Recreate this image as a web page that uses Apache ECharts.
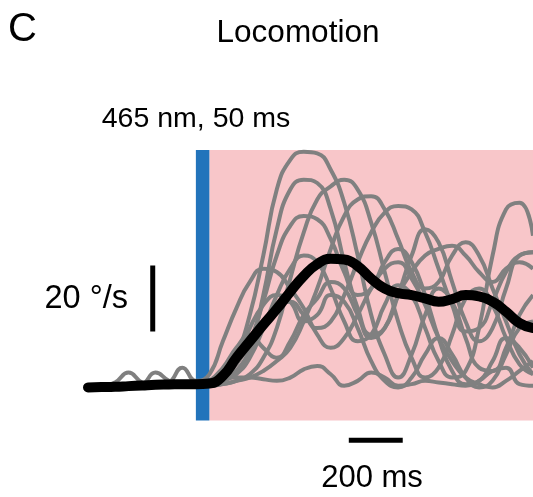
<!DOCTYPE html>
<html>
<head>
<meta charset="utf-8">
<script src="https://cdn.jsdelivr.net/npm/echarts@6/dist/echarts.min.js"></script>
<style>html,body{margin:0;padding:0;background:#fff;}#c{width:533px;height:497px;}</style>
</head>
<body>
<div id="c"></div>
<script>
// time in ms relative to light onset
var times = [-400,-350,-300,-250,-200,-150,-100,-50,0,50,100,150,200,250,300,350,400,450,500,550,600,650,700,750,800,850,900,950,1000,1050,1100,1150,1200,1250];
// individual trials (angular velocity, deg/s)
var trial1  = [0.5,0.5,0.5,0.5,0.5,0.5,0.5,0.5,0.5,1,4,10,22,40,60,69,71.5,71,66,56,40,22,10,3,10,22,30,26,15,6,5,12,22,28];
var trial2  = [0.5,0.5,0.5,0.5,0.5,0.5,0.5,0.5,0.5,1,2,5,12,28,48,60,63,62,54,38,24,16,18,28,40,48,44,32,20,14,18,30,40,41];
var trial3  = [0.5,0.5,0.5,0.5,0.5,0.5,0.5,0.5,0.5,0.5,1,2,4,9,18,33,47,57,61,63,60,50,35,20,9,3,6,16,27,30,25,15,7,4];
var trial4  = [0.5,0.5,0.5,0.5,0.5,0.5,0.5,0.5,0.5,0.5,1,2,3,5,8,12,20,30,42,52,57,58,54,45,35,30,32,40,44,40,30,20,10,4];
var trial5  = [0.5,0.5,0.5,0.5,0.5,0.5,0.5,0.5,0.5,1,2,5,10,18,25,26,22,18,20,28,38,47,53,55,54,47,36,25,17,18,26,35,40,41];
var trial6  = [0.5,0.5,0.5,0.5,0.5,0.5,0.5,0.5,0.5,1,2,4,9,18,28,36,40,38,30,20,14,16,25,31,28,18,8,3,5,18,40,54,56,46];
var trial7  = [0.5,0.5,0.5,0.5,0.5,0.5,0.5,0.5,0.5,1,3,7,14,26,40,49,52,51,45,35,28,30,38,42,38,28,15,5,1,2,8,15,12,6];
var trial8  = [0.5,0.5,0.5,0.5,0.5,0.5,0.5,0.5,0.5,2,6,12,16,12,9,14,22,27,32,30,22,15,18,28,35,40,42,43,40,35,32,36,38,36];
var trial9  = [0.5,0.5,1.5,4.5,1.5,0.5,0.5,0.5,0.5,2,3,3,3,2.5,2,3,5.5,6.5,4,0.5,2,4.5,3,0.5,1,2,1.5,1,0.5,2,5,6,1,0.5];
var trial10 = [0.5,0.5,0.5,0.5,1,4.5,2,0.5,0.5,1,3,8,18,25,28,26,20,22,28,26,18,8,2,0,3,10,15,10,3,0,2,10,18,20];
var trial11 = [0.5,0.5,0.5,0.5,0.5,0.5,1.5,6,2,4,14,24,32,36,35,30,24,16,12,15,22,30,36,38,33,25,15,8,3,1,0,2,5,8];
var trials = [trial1,trial2,trial3,trial4,trial5,trial6,trial7,trial8,trial9,trial10,trial11];
// mean response
var meanTrace = [0,0.1,0.2,0.4,0.6,0.8,0.9,1,1,1.2,3.5,9,14,19,23.8,29,33.8,37.4,39,38.8,36.8,33,30,28.6,28,27,26,26.8,28,27.6,26,23,19.5,18];
// stimulus windows (ms)
var lightOn = [0, 50];
var shadedWindow = [50, 1250];
var shadeRange = [-10, 72];
// scale bars
var scaleBarY = {t: -160, from: 17, size: 20, label: '20 °/s'};
var scaleBarX = {v: -16, from: 567, size: 200, label: '200 ms'};

function pairs(vals){ return times.map(function(t,i){ return [t, vals[i]]; }); }

var series = [];
series.push({
  type:'line', data:[], z:1, silent:true,
  markArea:{silent:true, itemStyle:{opacity:1}, data:[
    [{xAxis:shadedWindow[0], yAxis:shadeRange[0], itemStyle:{color:'#f8c6c9'}},{xAxis:shadedWindow[1], yAxis:shadeRange[1]}],
    [{xAxis:lightOn[0], yAxis:shadeRange[0], itemStyle:{color:'#2274bb'}},{xAxis:lightOn[1], yAxis:shadeRange[1]}]
  ]}
});
trials.forEach(function(tr){
  series.push({type:'line', data:pairs(tr), smooth:true, symbol:'none', z:2, silent:true,
    lineStyle:{color:'#808080', width:4}});
});
series.push({type:'line', data:pairs(meanTrace), smooth:true, symbol:'none', z:3, silent:true,
  lineStyle:{color:'#000', width:10, cap:'round', join:'round'}});
series.push({type:'line', data:[[scaleBarY.t, scaleBarY.from],[scaleBarY.t, scaleBarY.from+scaleBarY.size]], symbol:'none', z:3, silent:true,
  lineStyle:{color:'#000', width:5, cap:'butt'}});
series.push({type:'line', data:[[scaleBarX.from, scaleBarX.v],[scaleBarX.from+scaleBarX.size, scaleBarX.v]], symbol:'none', z:3, silent:true,
  lineStyle:{color:'#000', width:5, cap:'butt'}});

var font = '"Liberation Sans", Arial, sans-serif';
var chart = echarts.init(document.getElementById('c'), null, {renderer:'canvas'});
chart.setOption({
  animation:false,
  backgroundColor:'#fff',
  grid:{left:88, right:0, top:150, bottom:37},
  xAxis:{type:'value', min:-400, max:1250, show:false, splitLine:{show:false}},
  yAxis:{type:'value', min:-22, max:72, show:false, splitLine:{show:false}},
  series: series,
  graphic:[
    {type:'text', style:{text:'C', x:8, y:30, font:'40px '+font, fill:'#000', align:'left', verticalAlign:'middle'}},
    {type:'text', style:{text:'Locomotion', x:298, y:33, font:'31.5px '+font, fill:'#000', align:'center', verticalAlign:'middle'}},
    {type:'text', style:{text:'465 nm, 50 ms', x:196, y:119, font:'28.5px '+font, fill:'#000', align:'center', verticalAlign:'middle'}},
    {type:'text', style:{text:scaleBarY.label, x:128, y:299, font:'32.5px '+font, fill:'#000', align:'right', verticalAlign:'middle'}},
    {type:'text', style:{text:scaleBarX.label, x:372, y:478, font:'31px '+font, fill:'#000', align:'center', verticalAlign:'middle'}}
  ]
});
</script>
</body>
</html>
